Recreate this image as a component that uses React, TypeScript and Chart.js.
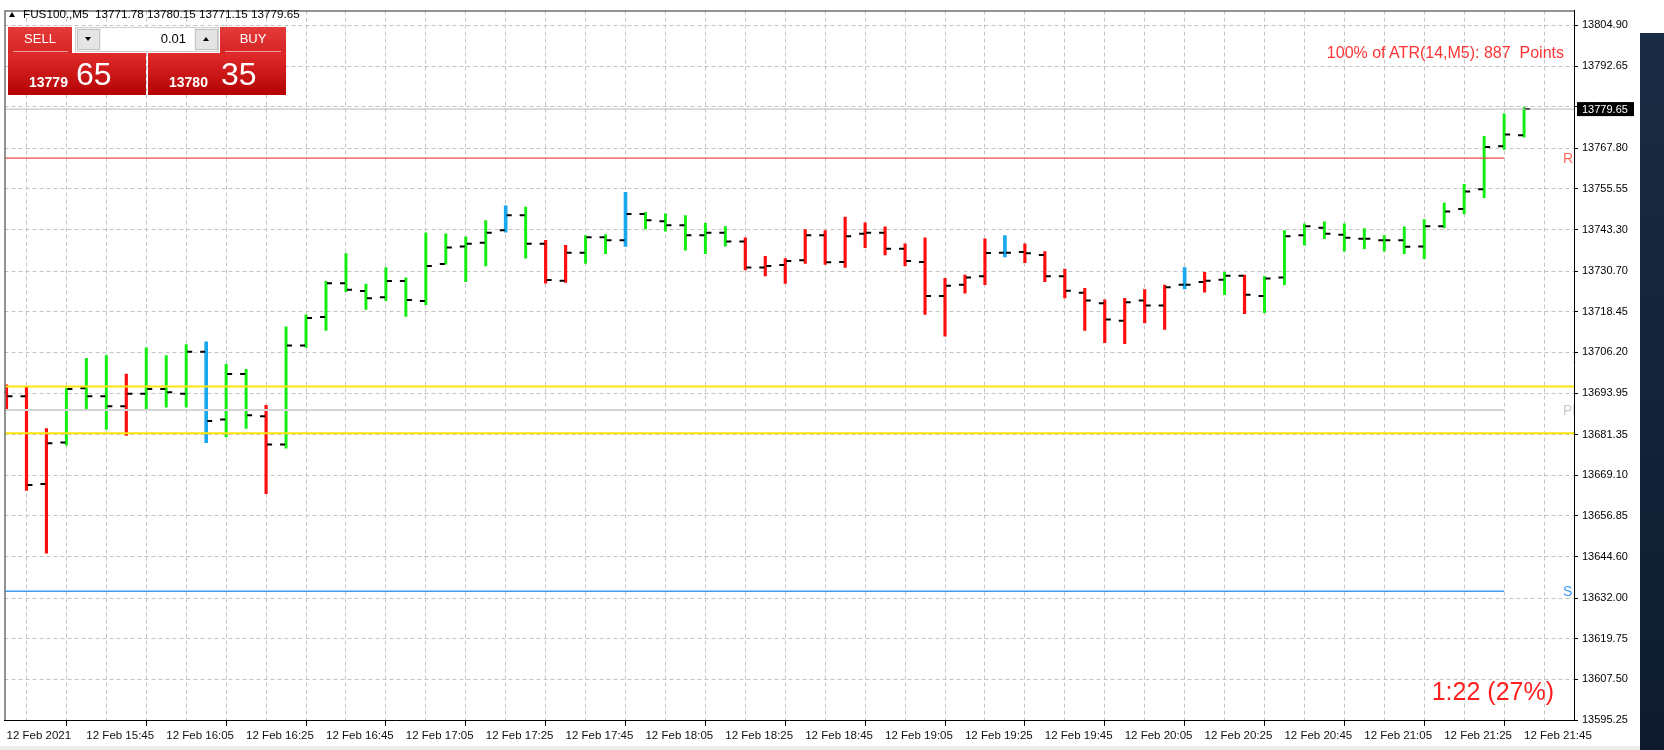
import React, { useEffect, useRef } from "react";
import { Chart, registerables } from "chart.js";

Chart.register(...registerables);

// ---------- data (FUS100., M5, 12 Feb 2021 15:25 .. 21:45) ----------
const opens = [
  13694.2, 13693.0, 13666.5, 13679.0, 13695.4, 13692.96, 13689.96, 13693.73, 13695.14, 13693.73,
  13706.41, 13685.96, 13699.72, 13686.97, 13678.39, 13708.3, 13716.88, 13727.05, 13724.75, 13722.86,
  13727.74, 13721.76, 13732.91, 13738.2, 13739.31, 13743.08, 13747.57, 13739.01, 13727.83, 13736.32,
  13740.99, 13740.09, 13747.98, 13745.77, 13744.58, 13741.59, 13742.3, 13739.7, 13731.83, 13732.61,
  13734.02, 13741.59, 13733.51, 13742.0, 13742.3, 13737.52, 13733.51, 13723.25, 13726.63, 13729.23,
  13736.32, 13736.5, 13735.6, 13729.23, 13724.24, 13721.07, 13715.78, 13721.85, 13720.35, 13726.63,
  13727.44, 13728.13, 13729.32, 13723.25, 13728.84, 13741.59, 13743.8, 13741.7, 13740.51, 13740.09,
  13740.09, 13738.21, 13744.28, 13749.48, 13755.46, 13768.41, 13771.78,
];
const highs = [
  13696.43, 13695.95, 13683.18, 13695.44, 13704.41, 13705.22, 13699.63, 13707.61, 13705.22, 13708.6,
  13709.4, 13702.62, 13701.12, 13690.26, 13713.89, 13717.57, 13727.65, 13736.02, 13726.84, 13731.83,
  13728.73, 13742.3, 13742.0, 13741.11, 13745.98, 13750.47, 13750.08, 13740.0, 13738.5, 13741.49,
  13741.79, 13754.56, 13748.46, 13748.07, 13747.48, 13745.17, 13744.19, 13740.81, 13735.21, 13734.53,
  13743.29, 13742.99, 13747.09, 13745.29, 13744.1, 13739.01, 13740.81, 13728.55, 13729.53, 13740.51,
  13741.49, 13739.01, 13736.62, 13731.33, 13725.55, 13722.06, 13722.56, 13725.14, 13726.54, 13731.83,
  13730.34, 13730.34, 13729.53, 13729.14, 13742.99, 13744.99, 13745.59, 13744.99, 13743.59, 13741.49,
  13744.1, 13746.28, 13751.27, 13756.96, 13771.4, 13778.19, 13780.15,
];
const lows = [
  13688.95, 13664.55, 13645.58, 13678.18, 13689.16, 13682.97, 13681.17, 13689.16, 13689.67, 13689.67,
  13678.99, 13680.69, 13683.27, 13663.53, 13677.28, 13707.7, 13712.87, 13724.54, 13719.15, 13721.85,
  13717.06, 13720.65, 13732.82, 13727.53, 13732.31, 13742.48, 13734.62, 13727.14, 13727.35, 13733.03,
  13736.02, 13738.21, 13743.5, 13742.78, 13737.1, 13736.02, 13738.29, 13731.12, 13729.32, 13727.05,
  13733.03, 13732.73, 13731.83, 13737.82, 13735.6, 13732.31, 13717.66, 13711.08, 13724.06, 13726.63,
  13735.01, 13733.33, 13727.53, 13722.65, 13712.87, 13709.11, 13708.81, 13715.09, 13713.17, 13725.35,
  13724.36, 13723.64, 13717.87, 13718.17, 13726.63, 13738.59, 13740.51, 13736.8, 13737.52, 13736.8,
  13736.02, 13734.53, 13743.8, 13747.98, 13752.95, 13767.51, 13771.15,
];
const closes = [
  13692.96, 13666.22, 13678.78, 13695.14, 13692.96, 13689.96, 13693.73, 13695.14, 13694.15, 13706.41,
  13685.48, 13699.72, 13687.27, 13678.39, 13708.3, 13716.58, 13727.05, 13725.14, 13722.56, 13727.74,
  13722.06, 13732.31, 13737.91, 13739.01, 13742.3, 13747.57, 13739.01, 13728.04, 13736.32, 13740.99,
  13740.09, 13747.98, 13746.07, 13744.58, 13741.59, 13742.3, 13739.7, 13731.83, 13732.31, 13733.81,
  13741.59, 13733.42, 13741.29, 13742.3, 13737.52, 13733.81, 13723.25, 13726.33, 13728.84, 13736.2,
  13736.32, 13736.11, 13729.23, 13724.84, 13721.85, 13716.16, 13721.37, 13720.35, 13725.85, 13726.63,
  13727.83, 13729.32, 13723.64, 13728.55, 13741.29, 13744.28, 13742.0, 13740.81, 13740.51, 13740.09,
  13738.12, 13744.28, 13748.76, 13754.74, 13768.2, 13772.0, 13779.65,
];
// indicator colour of each bar: r = red, g = green, b = blue
const barColorKeys = (
  "rrrgggrggg" + "bggrgggggg" + "gggggbgrrg" + "gbgggggrrr" + "rrrrrrrrrr" +
  "brrrrrrrrb" + "rgrggggggg" + "ggggggg"
).split("");

const xLabels = [
  "12 Feb 2021", "12 Feb 15:45", "12 Feb 16:05", "12 Feb 16:25", "12 Feb 16:45",
  "12 Feb 17:05", "12 Feb 17:25", "12 Feb 17:45", "12 Feb 18:05", "12 Feb 18:25",
  "12 Feb 18:45", "12 Feb 19:05", "12 Feb 19:25", "12 Feb 19:45", "12 Feb 20:05",
  "12 Feb 20:25", "12 Feb 20:45", "12 Feb 21:05", "12 Feb 21:25", "12 Feb 21:45",
];
const yTickValues = [
  13804.9, 13792.65, 13780.4, 13767.8, 13755.55, 13743.3, 13730.7, 13718.45, 13706.2,
  13693.95, 13681.35, 13669.1, 13656.85, 13644.6, 13632.0, 13619.75, 13607.5, 13595.25,
];

const levelR = 13764.82;
const levelS = 13634.13;
const levelPP = 13688.86;
const levelYellowHigh = 13695.95;
const levelYellowLow = 13681.77;
const bidPrice = 13779.65;

const headerText = "FUS100.,M5  13771.78 13780.15 13771.15 13779.65";
const atrText = "100% of ATR(14,M5): 887  Points";
const timerText = "1:22 (27%)";

// ---------- view settings ----------
const xMin = -0.1;
const xMax = 78.5;
const levelEndIdx = 75;
const yMin = 13595.25;
const yMax = 13809.38;
const FONT = '"Liberation Sans", Arial, sans-serif';
const COLORS: Record<string, string> = { r: "#ff0d0d", g: "#12ee12", b: "#19a7ee" };
const WIDTHS: Record<string, number> = { r: 2.5, g: 2.3, b: 3 };

const levelTags = [
  { text: "R", value: levelR, color: "#ff6a5a" },
  { text: "PP", value: levelPP, color: "#c8c8c8" },
  { text: "S", value: levelS, color: "#3a9af5" },
];

function barData(key: string) {
  const out: { x: number; y: [number, number] }[] = [];
  opens.forEach((_, i) => {
    if (barColorKeys[i] === key) out.push({ x: i, y: [lows[i], highs[i]] });
  });
  return out;
}

function hLine(value: number, endX: number) {
  return [
    { x: xMin, y: value },
    { x: endX, y: value },
  ];
}

const decorPlugin = {
  id: "decor",
  afterDraw(chart: any) {
    const { ctx, chartArea: a } = chart;
    const y = chart.scales.y;
    ctx.save();
    ctx.strokeStyle = "#707070";
    ctx.lineWidth = 1.5;
    ctx.beginPath();
    ctx.moveTo(a.left + 0.5, a.bottom);
    ctx.lineTo(a.left + 0.5, a.top + 0.5);
    ctx.lineTo(a.right, a.top + 0.5);
    ctx.stroke();

    ctx.beginPath();
    ctx.rect(a.left, a.top, a.right - a.left, a.bottom - a.top);
    ctx.clip();
    ctx.font = `14px ${FONT}`;
    ctx.textBaseline = "middle";
    ctx.textAlign = "left";
    levelTags.forEach((t) => {
      ctx.fillStyle = t.color;
      ctx.fillText(t.text, a.right - 11, y.getPixelForValue(t.value) + 1);
    });
    ctx.restore();

    ctx.save();
    const py = y.getPixelForValue(bidPrice);
    ctx.fillStyle = "#000";
    ctx.fillRect(a.right + 3, py - 7, 57, 14);
    ctx.fillStyle = "#fff";
    ctx.font = `11px ${FONT}`;
    ctx.textBaseline = "middle";
    ctx.textAlign = "left";
    ctx.fillText(bidPrice.toFixed(2), a.right + 8, py + 0.5);
    ctx.restore();
  },
};

function Tri({ left, top, up }: { left: number; top: number; up: boolean }) {
  return (
    <div
      style={{
        position: "absolute",
        left,
        top,
        width: 0,
        height: 0,
        borderLeft: "3.5px solid transparent",
        borderRight: "3.5px solid transparent",
        ...(up ? { borderBottom: "4px solid #000" } : { borderTop: "4px solid #000" }),
      }}
    />
  );
}

function T({
  left, top, width, text, size, color, bold, align, lh,
}: {
  left: number; top: number; width?: number; text: string; size: number; color: string;
  bold?: boolean; align?: "left" | "right" | "center"; lh: number;
}) {
  return (
    <div
      style={{
        position: "absolute",
        left,
        top,
        width,
        fontFamily: FONT,
        fontSize: size,
        lineHeight: `${lh}px`,
        fontWeight: bold ? "bold" : "normal",
        color,
        textAlign: align || "left",
        whiteSpace: "pre",
      }}
    >
      {text}
    </div>
  );
}

export default function App() {
  const canvasRef = useRef<HTMLCanvasElement | null>(null);

  useEffect(() => {
    if (!canvasRef.current) return;
    const tickPoints = opens.flatMap((o, i) => [
      { x: i - 0.175, y: o },
      { x: i + 0.175, y: closes[i] },
    ]);
    const xGridIdx = Array.from({ length: 40 }, (_, k) => k * 2);
    const lineDs = (data: any[], color: string, width: number) => ({
      type: "line" as const,
      data,
      borderColor: color,
      borderWidth: width,
      pointRadius: 0,
      fill: false,
      tension: 0,
      order: 0,
    });
    const chart = new Chart(canvasRef.current, {
      type: "bar",
      data: {
        datasets: [
          ...["g", "r", "b"].map((k) => ({
            type: "bar" as const,
            data: barData(k) as any,
            backgroundColor: COLORS[k],
            barThickness: WIDTHS[k],
            grouped: false,
            borderWidth: 0,
            order: 2,
          })),
          {
            type: "scatter" as const,
            data: tickPoints,
            pointStyle: "line",
            pointRadius: 2.5,
            pointHoverRadius: 2.5,
            pointBorderWidth: 2,
            pointBorderColor: "#000",
            pointBackgroundColor: "#000",
            order: 1,
          } as any,
          lineDs(hLine(levelYellowHigh, xMax), "#ffe40a", 2),
          lineDs(hLine(levelYellowLow, xMax), "#ffe40a", 2),
          lineDs(hLine(levelPP, levelEndIdx), "#d4d4d4", 2),
          lineDs(hLine(levelR, levelEndIdx), "#f04a4a", 1.3),
          lineDs(hLine(levelS, levelEndIdx), "#3a9af5", 1.5),
          lineDs(hLine(bidPrice, xMax), "#b8b8b8", 1),
        ] as any,
      },
      options: {
        responsive: false,
        maintainAspectRatio: false,
        animation: false,
        events: [],
        layout: { padding: { left: 2, top: 4, right: 0, bottom: 0 } },
        plugins: { legend: { display: false }, tooltip: { enabled: false } },
        scales: {
          x: {
            type: "linear",
            position: "bottom",
            min: xMin,
            max: xMax,
            offset: false,
            afterBuildTicks: (s: any) => {
              s.ticks = xGridIdx.map((v) => ({ value: v }));
            },
            afterFit: (s: any) => {
              s.height = 30;
            },
            ticks: {
              autoSkip: false,
              maxRotation: 0,
              minRotation: 0,
              align: "start",
              padding: 3,
              color: "#111",
              font: { family: FONT, size: 11.5 },
              callback: (v: any) => (Number(v) % 4 === 0 ? xLabels[Number(v) / 4] ?? "" : ""),
            },
            grid: {
              color: "#c4c4c4",
              lineWidth: 1,
              tickLength: 6,
              tickColor: (c: any) => (c.index % 2 === 0 ? "#000" : "rgba(0,0,0,0)"),
            },
            border: { color: "#000", width: 1, dash: [4, 3] },
          },
          y: {
            type: "linear",
            position: "right",
            min: yMin,
            max: yMax,
            afterBuildTicks: (s: any) => {
              s.ticks = yTickValues.map((v) => ({ value: v }));
            },
            afterFit: (s: any) => {
              s.width = 90;
            },
            ticks: {
              padding: 4,
              color: "#000",
              font: { family: FONT, size: 11 },
              callback: (v: any) => Number(v).toFixed(2),
            },
            grid: { color: "#c4c4c4", lineWidth: 1, tickLength: 4, tickColor: "#000" },
            border: { color: "#000", width: 1, dash: [4, 3] },
          },
        },
      } as any,
      plugins: [decorPlugin],
    });
    return () => chart.destroy();
  }, []);

  const red = "linear-gradient(#e63a3a, #d52525)";
  const redLow = "linear-gradient(#e12b2b, #b40303)";

  return (
    <div
      style={{
        position: "fixed",
        left: 0,
        top: 0,
        width: 1664,
        height: 750,
        background: "#fff",
        overflow: "hidden",
      }}
    >
      <canvas
        ref={canvasRef}
        width={1664}
        height={750}
        style={{ position: "absolute", left: 0, top: 0, width: 1664, height: 750 }}
      />
      {/* right desktop strip and bottom strip */}
      <div style={{ position: "absolute", left: 1640, top: 33, width: 24, height: 717, background: "linear-gradient(#1a2c44, #0d1b2d)" }} />
      <div style={{ position: "absolute", left: 0, top: 746, width: 1640, height: 4, background: "#ececec" }} />

      {/* header */}
      <div style={{ position: "absolute", left: 9, top: 12, width: 0, height: 0, borderLeft: "3px solid transparent", borderRight: "3px solid transparent", borderBottom: "5px solid #000" }} />
      <T left={23} top={8} text={headerText} size={11.7} color="#000" lh={12} />

      {/* one-click trading panel */}
      <div style={{ position: "absolute", left: 8, top: 27, width: 64, height: 26, background: red }} />
      <div style={{ position: "absolute", left: 13, top: 51, width: 55, height: 1, background: "#f4a0a0" }} />
      <div style={{ position: "absolute", left: 220, top: 27, width: 66, height: 26, background: red }} />
      <div style={{ position: "absolute", left: 225, top: 51, width: 56, height: 1, background: "#f4a0a0" }} />
      <div style={{ position: "absolute", left: 8, top: 53, width: 138, height: 42, background: redLow }} />
      <div style={{ position: "absolute", left: 148, top: 53, width: 138, height: 42, background: redLow }} />
      <div style={{ position: "absolute", left: 75, top: 27, width: 144, height: 25, background: "#f2f2f2", border: "1px solid #cfcfcf", boxSizing: "border-box" }} />
      <div style={{ position: "absolute", left: 77, top: 29, width: 23, height: 21, background: "#e4e4e4", border: "1px solid #c4c4c4", boxSizing: "border-box" }} />
      <div style={{ position: "absolute", left: 101, top: 28, width: 93, height: 23, background: "#fff" }} />
      <div style={{ position: "absolute", left: 195, top: 29, width: 23, height: 21, background: "#e4e4e4", border: "1px solid #c4c4c4", boxSizing: "border-box" }} />
      <Tri left={85} top={37} up={false} />
      <Tri left={203} top={37} up={true} />
      <T left={8} top={31} width={64} text="SELL" size={13} color="#fff" align="center" lh={16} />
      <T left={220} top={31} width={66} text="BUY" size={13} color="#fff" align="center" lh={16} />
      <T left={101} top={31} width={85} text="0.01" size={13} color="#000" align="right" lh={16} />
      <T left={29} top={74} text="13779" size={14} color="#fff" bold lh={16} />
      <T left={76} top={57} text="65" size={32} color="#fff" lh={34} />
      <T left={169} top={74} text="13780" size={14} color="#fff" bold lh={16} />
      <T left={221} top={57} text="35" size={32} color="#fff" lh={34} />

      {/* on-chart texts */}
      <T left={1200} top={44} width={364} text={atrText} size={16} color="#ff3434" align="right" lh={18} />
      <T left={1300} top={676} width={254} text={timerText} size={25} color="#ff1f1f" align="right" lh={30} />
    </div>
  );
}
